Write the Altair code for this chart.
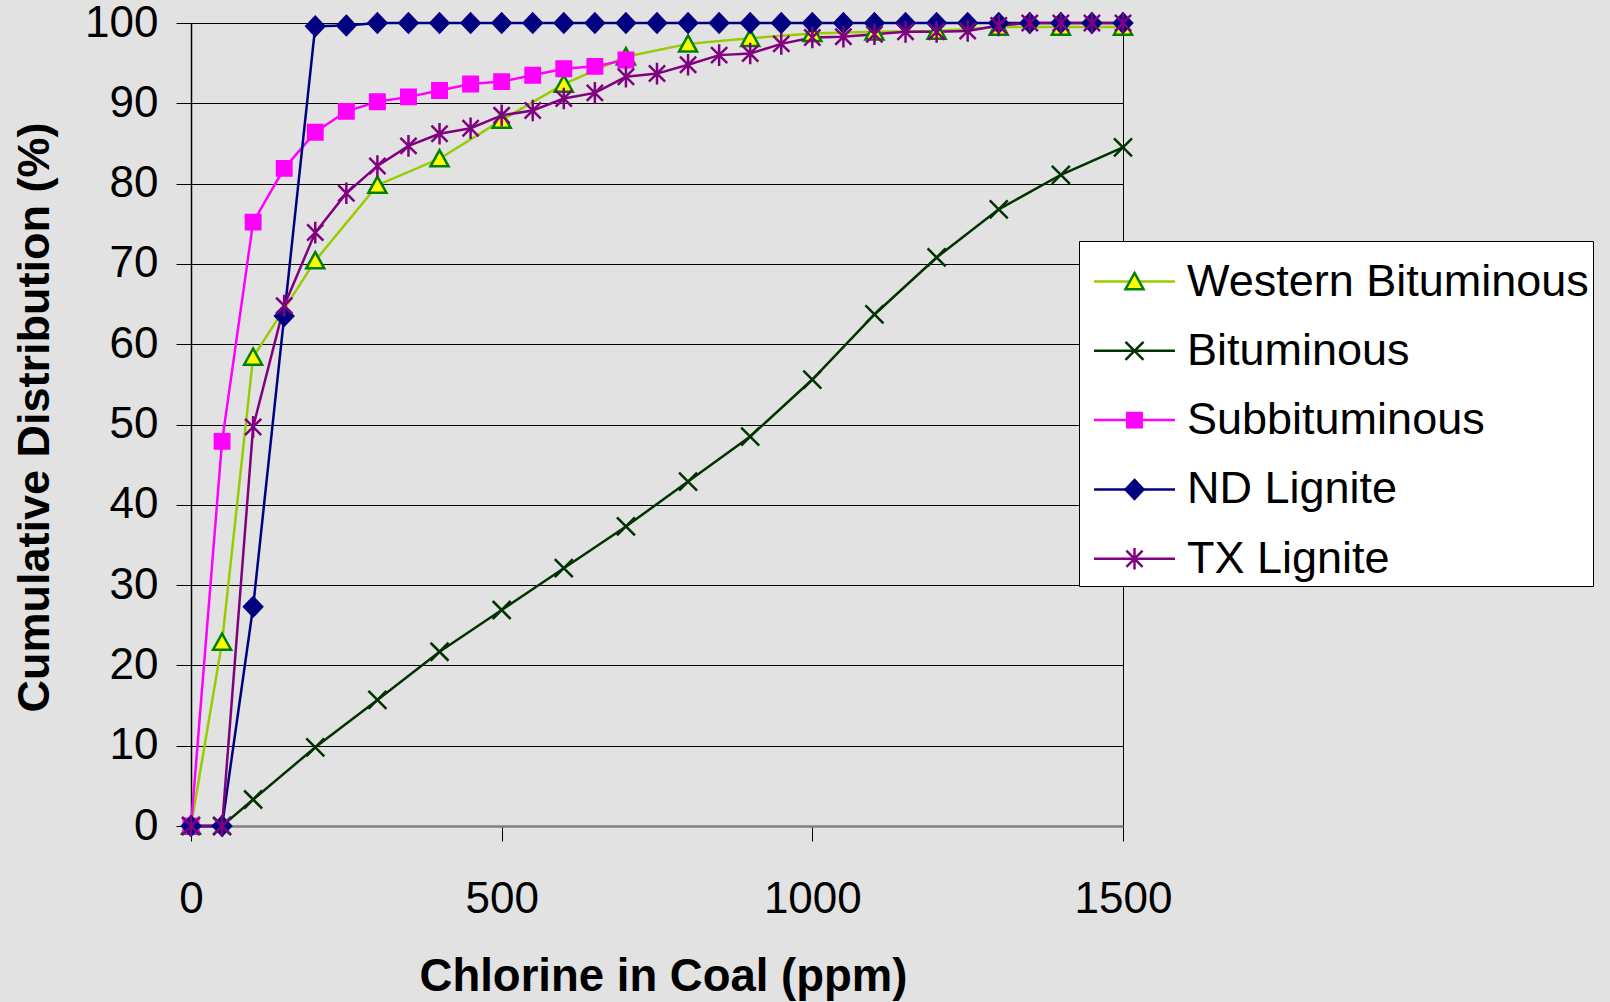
import altair as alt
import pandas as pd

SERIES = ["Western Bituminous", "Bituminous", "Subbituminous", "ND Lignite", "TX Lignite"]

# x positions (ppm) and cumulative % for each series
WB_X = [0, 50, 100, 200, 300, 400, 500, 600, 700, 800, 900, 1000, 1100, 1200, 1300, 1400, 1500]
WB_Y = [0, 22.9, 58.4, 70.4, 79.8, 83.1, 87.9, 92.4, 95.8, 97.4, 98.1, 98.7, 98.9, 99.0, 99.5, 99.5, 99.5]

BIT_X = [0, 50, 100, 200, 300, 400, 500, 600, 700, 800, 900, 1000, 1100, 1200, 1300, 1400, 1500]
BIT_Y = [0, 0, 3.3, 9.8, 15.7, 21.7, 26.9, 32.1, 37.3, 42.9, 48.5, 55.6, 63.7, 70.8, 76.8, 81.1, 84.5]

SUB_X = [0, 50, 100, 150, 200, 250, 300, 350, 400, 450, 500, 550, 600, 650, 700]
SUB_Y = [0, 47.9, 75.2, 81.9, 86.4, 89.0, 90.2, 90.8, 91.6, 92.4, 92.7, 93.5, 94.3, 94.6, 95.4]

ND_X = [0, 50, 100, 150, 200, 250, 300, 350, 400, 450, 500, 550, 600, 650, 700, 750,
        800, 850, 900, 950, 1000, 1050, 1100, 1150, 1200, 1250, 1300, 1350, 1400, 1450, 1500]
ND_Y = [0, 0, 27.3, 63.5, 99.6, 99.7, 100, 100, 100, 100, 100, 100, 100, 100, 100, 100,
        100, 100, 100, 100, 100, 100, 100, 100, 100, 100, 100, 100, 100, 100, 100]

TX_X = [0, 50, 100, 150, 200, 250, 300, 350, 400, 450, 500, 550, 600, 650, 700, 750,
        800, 850, 900, 950, 1000, 1050, 1100, 1150, 1200, 1250, 1300, 1350, 1400, 1450, 1500]
TX_Y = [0, 0, 49.7, 64.8, 73.9, 78.8, 82.2, 84.7, 86.2, 86.9, 88.5, 89.1, 90.6, 91.3, 93.3, 93.7,
        94.8, 96.0, 96.2, 97.4, 98.2, 98.3, 98.6, 98.9, 98.9, 99.0, 99.7, 100, 100, 100, 100]

X_TICKS = [0, 500, 1000, 1500]
Y_TICKS = [0, 10, 20, 30, 40, 50, 60, 70, 80, 90, 100]

LINE_COLORS = ["#99CC00", "#003300", "#FF00FF", "#000080", "#800080"]
MARK_FILLS = ["#FFFF00", "transparent", "#FF00FF", "#000080", "transparent"]
MARK_STROKES = ["#008000", "#003300", "#FF00FF", "#000080", "#800080"]
MARK_SHAPES = [
    "M0,-0.95L1,0.85L-1,0.85Z",
    "M-1,-1L1,1M-1,1L1,-1",
    "M-0.8,-0.8H0.8V0.8H-0.8Z",
    "M0,-1.05L1,0L0,1.05L-1,0Z",
    "M-0.9,-0.9L0.9,0.9M-0.9,0.9L0.9,-0.9M0,-1.2V1.2",
]

rows = []
for i, (name, xs, ys) in enumerate([
    (SERIES[0], WB_X, WB_Y),
    (SERIES[1], BIT_X, BIT_Y),
    (SERIES[2], SUB_X, SUB_Y),
    (SERIES[3], ND_X, ND_Y),
    (SERIES[4], TX_X, TX_Y),
]):
    for xv, yv in zip(xs, ys):
        rows.append({"series": name, "x": xv, "y": yv, "order": i})
df = pd.DataFrame(rows)

FONT = "Liberation Sans"
LEG_X = 888
LEG_Y = 218

common_legend = dict(
    orient="none", legendX=LEG_X, legendY=LEG_Y,
    title=" ", titleFontSize=4, titlePadding=10,
    padding=4, labelFont=FONT, labelFontSize=45, labelColor="black",
    labelOffset=30, symbolOffset=29, rowPadding=23.3, labelLimit=1200,
    symbolStrokeWidth=2.5,
)

line_legend = alt.Legend(
    symbolType="M-2,0H2", symbolSize=1640, fillColor="white", strokeColor="black",
    labelExpr="datum.label + '\u00a0\u00a0\u00a0\u00a0\u00a0\u00a0'", **common_legend,
)
mark_legend = alt.Legend(symbolSize=324, labelOpacity=0, **common_legend)

sort_def = alt.EncodingSortField(field="order", op="min")

x_enc = alt.X(
    "x:Q",
    scale=alt.Scale(domain=[0, 1500], nice=False, zero=False),
    axis=alt.Axis(
        values=X_TICKS, format="d", grid=False, tickSize=15, tickColor="black", tickWidth=1,
        labelFont=FONT, labelFontSize=44, labelColor="black", labelPadding=36, labelFlush=False,
        domainColor="#808080", domainWidth=2.5,
        titleFont=FONT, titleFontSize=45.5, titleFontWeight="bold", titleColor="black", titlePadding=33,
        titleX=472,
    ),
    title="Chlorine in Coal (ppm)",
)
y_enc = alt.Y(
    "y:Q",
    scale=alt.Scale(domain=[0, 100], nice=False),
    axis=alt.Axis(
        values=Y_TICKS, grid=True, gridColor="black", gridWidth=1, tickSize=15, tickColor="black",
        labelFont=FONT, labelFontSize=44, labelColor="black", labelPadding=18, labelFlush=False,
        labelOverlap=False, domainColor="black", domainWidth=1.5,
        titleFont=FONT, titleFontSize=45, titleFontWeight="bold", titleColor="black", titlePadding=27,
        titleY=394,
    ),
    title="Cumulative Distribution (%)",
)

lines = alt.Chart(df).mark_line(strokeWidth=2.5).encode(
    x=x_enc,
    y=y_enc,
    color=alt.Color("series:N", scale=alt.Scale(domain=SERIES, range=LINE_COLORS), legend=line_legend),
)

points = alt.Chart(df).mark_point(opacity=1, size=324, strokeWidth=2.5).encode(
    x=alt.X("x:Q"),
    y=alt.Y("y:Q"),
    shape=alt.Shape("series:N", sort=sort_def, scale=alt.Scale(range=MARK_SHAPES), legend=mark_legend),
    fill=alt.Fill("series:N", sort=sort_def, scale=alt.Scale(range=MARK_FILLS), legend=mark_legend),
    stroke=alt.Stroke("series:N", sort=sort_def, scale=alt.Scale(range=MARK_STROKES), legend=mark_legend),
    order=alt.Order("order:Q"),
)

chart = (
    alt.layer(lines, points)
    .properties(
        width=932, height=803,
        autosize=alt.AutoSizeParams(type="none"),
        padding={"left": 191, "top": 23, "right": 487, "bottom": 176},
        background="#e2e2e2",
    )
    .configure_view(stroke="black", strokeWidth=1)
)

chart.save("out.html", embed_options={"renderer": "svg", "actions": False})
